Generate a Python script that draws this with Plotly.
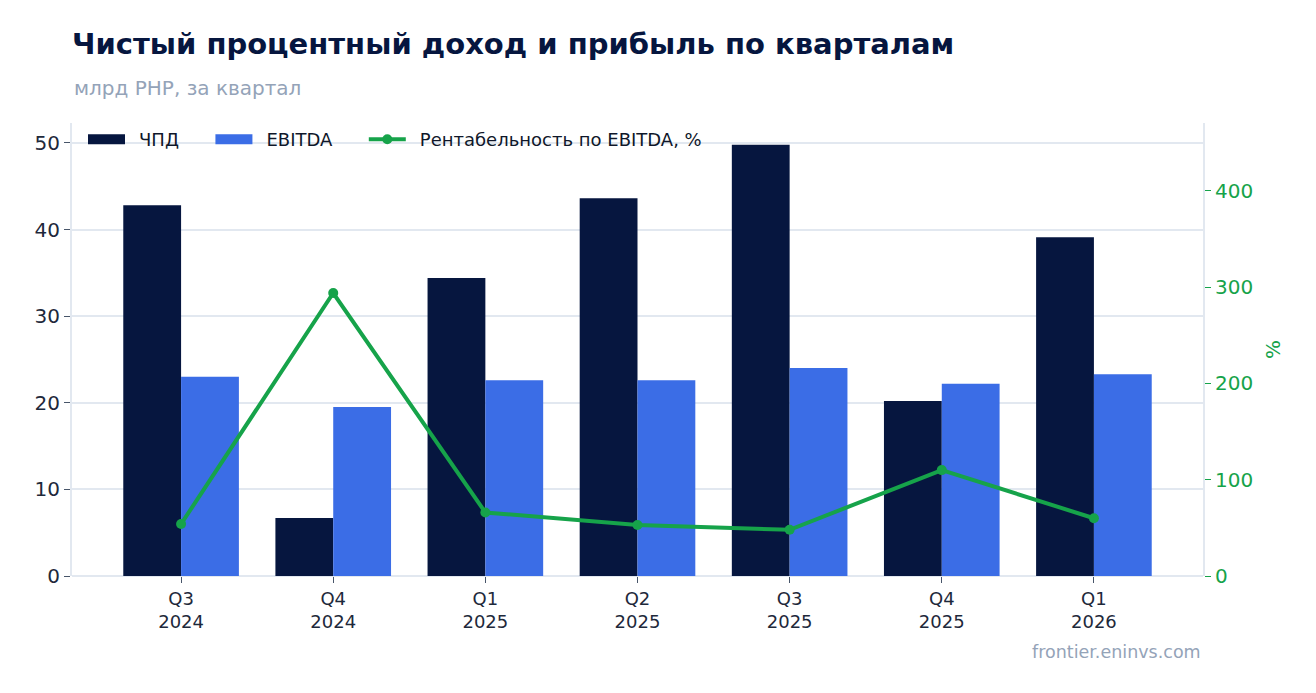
import plotly.graph_objects as go

quarters = ["Q3<br>2024", "Q4<br>2024", "Q1<br>2025", "Q2<br>2025", "Q3<br>2025", "Q4<br>2025", "Q1<br>2026"]
nii = [42.8, 6.7, 34.4, 43.6, 49.8, 20.2, 39.1]
ebitda = [23.0, 19.5, 22.6, 22.6, 24.0, 22.2, 23.3]
margin = [54, 294, 66, 53, 48, 110, 60]

navy = "#06163f"
blue = "#3b6de6"
green = "#16a34a"
grid = "#e2e8f0"
text_dark = "#1e293b"
lead = "\u2002"
pad = "\u00a0" * 4 + "\u2009"

fig = go.Figure()
fig.add_trace(go.Bar(x=quarters, y=nii, name="ЧПД", marker=dict(color=navy, line_width=0),
                     showlegend=False))
fig.add_trace(go.Bar(x=quarters, y=ebitda, name="EBITDA", marker=dict(color=blue, line_width=0),
                     showlegend=False))
# legend swatches drawn as wide strokes, like the reference
fig.add_trace(go.Scatter(x=[None], y=[None], mode="lines", name=lead + "ЧПД" + pad,
                         line=dict(color=navy, width=13)))
fig.add_trace(go.Scatter(x=[None], y=[None], mode="lines", name=lead + "EBITDA" + pad,
                         line=dict(color=blue, width=13)))
fig.add_trace(go.Scatter(
    x=quarters, y=margin, name=lead + "Рентабельность по EBITDA, %",
    mode="lines+markers", yaxis="y2",
    line=dict(color=green, width=4), marker=dict(size=10, color=green)
))

fig.update_layout(
    width=1300, height=677,
    font=dict(family="DejaVu Sans", color=text_dark),
    paper_bgcolor="white", plot_bgcolor="white",
    margin=dict(l=64, r=105, t=115, b=109),
    barmode="group", bargap=0.24, bargroupgap=0,
    title=dict(
        text="<b>Чистый процентный доход и прибыль по кварталам</b>",
        x=64 / 1300, xanchor="left", y=1 - 36 / 677, yanchor="middle",
        font=dict(size=29, color=navy)
    ),
    legend=dict(
        orientation="h", x=11 / 1131, y=1 + 2 / 453, xanchor="left", yanchor="top",
        font=dict(size=18, color="#0f172a"), bgcolor="rgba(0,0,0,0)",
        itemwidth=37, traceorder="normal"
    ),
    xaxis=dict(
        range=[-0.717, 6.717], showgrid=False,
        showline=False, ticks="outside", ticklen=6, tickcolor="#475569",
        tickfont=dict(size=18, color=text_dark)
    ),
    yaxis=dict(
        range=[0, 52.3], tickvals=[0, 10, 20, 30, 40, 50],
        showgrid=True, gridcolor=grid, gridwidth=2,
        showline=True, linecolor=grid, linewidth=2,
        zeroline=True, zerolinecolor=grid, zerolinewidth=2,
        ticks="outside", ticklen=6, tickcolor="#475569",
        tickfont=dict(size=20, color=text_dark)
    ),
    yaxis2=dict(
        overlaying="y", side="right", range=[0, 470.6],
        tickvals=[0, 100, 200, 300, 400], showgrid=False,
        showline=True, linecolor=grid, linewidth=2, zeroline=False,
        ticks="outside", ticklen=6, tickcolor=green,
        tickfont=dict(size=20, color=green),
        title=dict(text="%", font=dict(size=20, color=green), standoff=14)
    ),
    annotations=[
        dict(text="млрд РНР, за квартал", xref="paper", yref="paper",
             x=0, y=1 + 35 / 453, xanchor="left", yanchor="middle",
             showarrow=False, font=dict(size=20, color="#94a3b8")),
        dict(text="frontier.eninvs.com", xref="paper", yref="paper",
             x=1, y=-76 / 453, xanchor="right", yanchor="middle",
             showarrow=False, font=dict(size=17.5, color="#94a3b8")),
    ]
)

fig.write_html("out.html")
